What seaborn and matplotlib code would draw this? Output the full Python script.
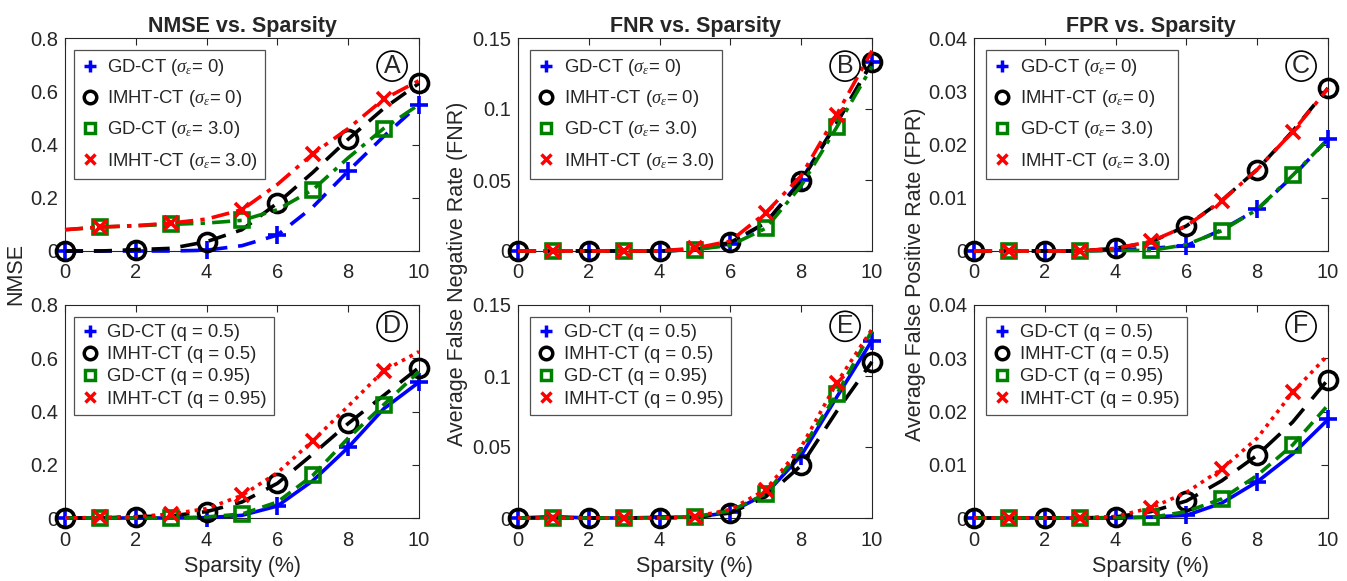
import numpy as np
import pandas as pd
import matplotlib
matplotlib.use("Agg")
import matplotlib.pyplot as plt
from matplotlib.lines import Line2D
from matplotlib.ticker import FuncFormatter
import seaborn as sns

sns.set_style("white")
plt.rcParams['font.family'] = ['Liberation Sans', 'DejaVu Sans']
plt.rcParams['mathtext.fontset'] = 'custom'
plt.rcParams['mathtext.it'] = 'Liberation Serif:italic'
plt.rcParams['mathtext.rm'] = 'Liberation Sans'

# ---------------- data ----------------
sparsity = [0, 1, 2, 3, 4, 5, 6, 7, 8, 9, 10]

series_names_top = [r"GD-CT ($\sigma_\epsilon$= 0)", r"IMHT-CT ($\sigma_\epsilon$= 0)",
                    r"GD-CT ($\sigma_\epsilon$= 3.0)", r"IMHT-CT ($\sigma_\epsilon$= 3.0)"]
series_names_bot = ["GD-CT (q = 0.5)", "IMHT-CT (q = 0.5)",
                    "GD-CT (q = 0.95)", "IMHT-CT (q = 0.95)"]

# Panel A: NMSE, noise
nmse_gd_s0 = [0, 0, 0, 0, 0.003, 0.02, 0.06, 0.165, 0.30, 0.43, 0.55]
nmse_imht_s0 = [0, 0, 0.005, 0.01, 0.035, 0.08, 0.18, 0.295, 0.42, 0.535, 0.63]
nmse_gd_s3 = [0.08, 0.09, 0.095, 0.10, 0.105, 0.115, 0.155, 0.23, 0.35, 0.46, 0.55]
nmse_imht_s3 = [0.08, 0.09, 0.095, 0.105, 0.12, 0.155, 0.25, 0.365, 0.46, 0.57, 0.64]

# Panel B: FNR, noise
fnr_gd_s0 = [0, 0, 0, 0, 0, 0.001, 0.005, 0.020, 0.050, 0.090, 0.133]
fnr_imht_s0 = [0, 0, 0, 0, 0, 0.001, 0.006, 0.020, 0.049, 0.090, 0.133]
fnr_gd_s3 = [0, 0, 0, 0, 0, 0.001, 0.004, 0.016, 0.046, 0.087, 0.130]
fnr_imht_s3 = [0, 0, 0, 0, 0, 0.002, 0.007, 0.027, 0.053, 0.096, 0.141]

# Panel C: FPR, noise
fpr_gd_s0 = [0, 0, 0, 0, 0.0002, 0.0005, 0.0010, 0.0040, 0.0078, 0.0140, 0.0210]
fpr_imht_s0 = [0, 0, 0, 0, 0.0005, 0.0017, 0.0047, 0.0095, 0.0153, 0.0225, 0.0306]
fpr_gd_s3 = [0, 0, 0, 0, 0.0001, 0.0001, 0.0012, 0.0038, 0.0078, 0.0142, 0.0210]
fpr_imht_s3 = [0, 0, 0, 0, 0.0005, 0.0018, 0.0047, 0.0094, 0.0153, 0.0224, 0.0305]

# Panel D: NMSE, q
nmse_gd_q05 = [0, 0, 0, 0, 0.001, 0.01, 0.045, 0.14, 0.265, 0.41, 0.51]
nmse_imht_q05 = [0, 0, 0.005, 0.008, 0.024, 0.06, 0.13, 0.24, 0.355, 0.46, 0.565]
nmse_gd_q95 = [0, 0, 0, 0, 0.004, 0.015, 0.06, 0.16, 0.30, 0.425, 0.55]
nmse_imht_q95 = [0, 0.002, 0.005, 0.015, 0.035, 0.085, 0.17, 0.29, 0.42, 0.553, 0.625]

# Panel E: FNR, q
fnr_gd_q05 = [0, 0.001, 0, 0, 0.0005, 0.0005, 0.004, 0.017, 0.044, 0.085, 0.125]
fnr_imht_q05 = [0, 0, 0, 0, 0, 0.0005, 0.0035, 0.015, 0.037, 0.075, 0.110]
fnr_gd_q95 = [0, 0, 0, 0, 0, 0.001, 0.005, 0.017, 0.048, 0.087, 0.132]
fnr_imht_q95 = [0, 0, 0, 0, 0, 0.001, 0.006, 0.020, 0.050, 0.095, 0.133]

# Panel F: FPR, q
fpr_gd_q05 = [0, 0, 0, 0, 0, 0.0002, 0.0005, 0.0028, 0.0068, 0.0120, 0.0185]
fpr_imht_q05 = [0, 0, 0, 0, 0.0002, 0.0012, 0.0032, 0.0070, 0.0118, 0.0180, 0.0260]
fpr_gd_q95 = [0, 0, 0, 0, 0.0001, 0.0001, 0.0012, 0.0036, 0.0080, 0.0137, 0.0212]
fpr_imht_q95 = [0, 0, 0, 0, 0.0003, 0.0019, 0.0048, 0.0092, 0.0150, 0.0236, 0.0306]

panels = [
    dict(letter="A", title="NMSE vs. Sparsity", ylim=0.8, yticks=[0, 0.2, 0.4, 0.6, 0.8],
         data=[nmse_gd_s0, nmse_imht_s0, nmse_gd_s3, nmse_imht_s3], names=series_names_top, row=0),
    dict(letter="B", title="FNR vs. Sparsity", ylim=0.15, yticks=[0, 0.05, 0.1, 0.15],
         data=[fnr_gd_s0, fnr_imht_s0, fnr_gd_s3, fnr_imht_s3], names=series_names_top, row=0),
    dict(letter="C", title="FPR vs. Sparsity", ylim=0.04, yticks=[0, 0.01, 0.02, 0.03, 0.04],
         data=[fpr_gd_s0, fpr_imht_s0, fpr_gd_s3, fpr_imht_s3], names=series_names_top, row=0),
    dict(letter="D", title=None, ylim=0.8, yticks=[0, 0.2, 0.4, 0.6, 0.8],
         data=[nmse_gd_q05, nmse_imht_q05, nmse_gd_q95, nmse_imht_q95], names=series_names_bot, row=1),
    dict(letter="E", title=None, ylim=0.15, yticks=[0, 0.05, 0.1, 0.15],
         data=[fnr_gd_q05, fnr_imht_q05, fnr_gd_q95, fnr_imht_q95], names=series_names_bot, row=1),
    dict(letter="F", title=None, ylim=0.04, yticks=[0, 0.01, 0.02, 0.03, 0.04],
         data=[fpr_gd_q05, fpr_imht_q05, fpr_gd_q95, fpr_imht_q95], names=series_names_bot, row=1),
]

colors = ["#0000ff", "#000000", "#008000", "#ff0000"]
markers = ["+", "o", "s", "x"]
msizes = [13, 13, 10, 10]
mevery = [slice(0, None, 2), slice(0, None, 2), slice(1, None, 2), slice(1, None, 2)]
styles_top = [(0, (5, 3)), (0, (5, 3)), (0, (5, 2, 1.2, 2)), (0, (5, 2, 1.2, 2))]
styles_bot = ["-", (0, (6, 3.5)), (0, (3.5, 2)), (0, (1, 1.4))]

W, H = 1347, 581
fig = plt.figure(figsize=(W / 100, H / 100), dpi=100)

lefts = [65, 518, 974]
axw = 354
tops = [38, 305]
axh = 213

edge = "#262626"
fmt = FuncFormatter(lambda v, p: "0" if abs(v) < 1e-12 else ("%g" % v))

for i, p in enumerate(panels):
    col = i % 3
    row = p["row"]
    ax = fig.add_axes([lefts[col] / W, 1 - (tops[row] + axh) / H, axw / W, axh / H])
    lstyles = styles_top if row == 0 else styles_bot
    for k in range(4):
        df = pd.DataFrame({"x": sparsity, "y": p["data"][k]})
        sns.lineplot(data=df, x="x", y="y", ax=ax, color=colors[k], linestyle=lstyles[k],
                     linewidth=2.6, marker=markers[k], markersize=msizes[k],
                     markevery=mevery[k], markerfacecolor="none",
                     markeredgecolor=colors[k], markeredgewidth=2.6,
                     clip_on=False, legend=False, zorder=3 + k)
    ax.set_xlim(0, 10)
    ax.set_ylim(0, p["ylim"])
    ax.set_xticks([0, 2, 4, 6, 8, 10])
    ax.set_yticks(p["yticks"])
    ax.yaxis.set_major_formatter(fmt)
    ax.tick_params(direction="in", top=True, right=True, length=5, width=0.8,
                   labelsize=14.5, colors=edge, labelcolor=edge)
    ax.tick_params(axis="x", pad=9)
    ax.tick_params(axis="y", pad=5)
    for s in ax.spines.values():
        s.set_color(edge)
        s.set_linewidth(0.8)
        s.set_visible(True)
    ax.set_xlabel("Sparsity (%)" if row == 1 else "", fontsize=15.5, color=edge, labelpad=5)
    ax.set_ylabel("")
    if p["title"]:
        ax.set_title(p["title"], fontsize=15.5, fontweight="bold", pad=4)
    handles = [Line2D([], [], color=colors[k], marker=markers[k], linestyle="none",
                      markersize=[9, 9, 7.5, 7.5][k], markerfacecolor="none",
                      markeredgewidth=2.5) for k in range(4)]
    leg = ax.legend(handles, p["names"], loc="upper left",
                    bbox_to_anchor=(0.025 if col == 0 else 0.035, 0.945), borderaxespad=0,
                    fontsize=13.3, frameon=True, fancybox=False, handlelength=0.9,
                    handletextpad=0.5, borderpad=0.4,
                    labelspacing=0.55 if row == 0 else 0.28)
    leg.get_frame().set_edgecolor(edge)
    leg.get_frame().set_linewidth(0.9)
    leg.set_zorder(10)
    ax.text(0.924, 0.868 if row == 0 else 0.9, p["letter"], transform=ax.transAxes,
            ha="center", va="center", fontsize=18,
            bbox=dict(boxstyle="circle,pad=0.12", fc="white", ec="black", lw=1.2), zorder=11)

ylabels = ["NMSE", "Average False Negative Rate (FNR)", "Average False Positive Rate (FPR)"]
ylx = [16, 458, 915]
for j in range(3):
    fig.text(ylx[j] / W, 1 - 274 / H, ylabels[j], rotation=90, ha="center", va="center",
             fontsize=15.5, color=edge)

fig.savefig("out.png", dpi=100)
